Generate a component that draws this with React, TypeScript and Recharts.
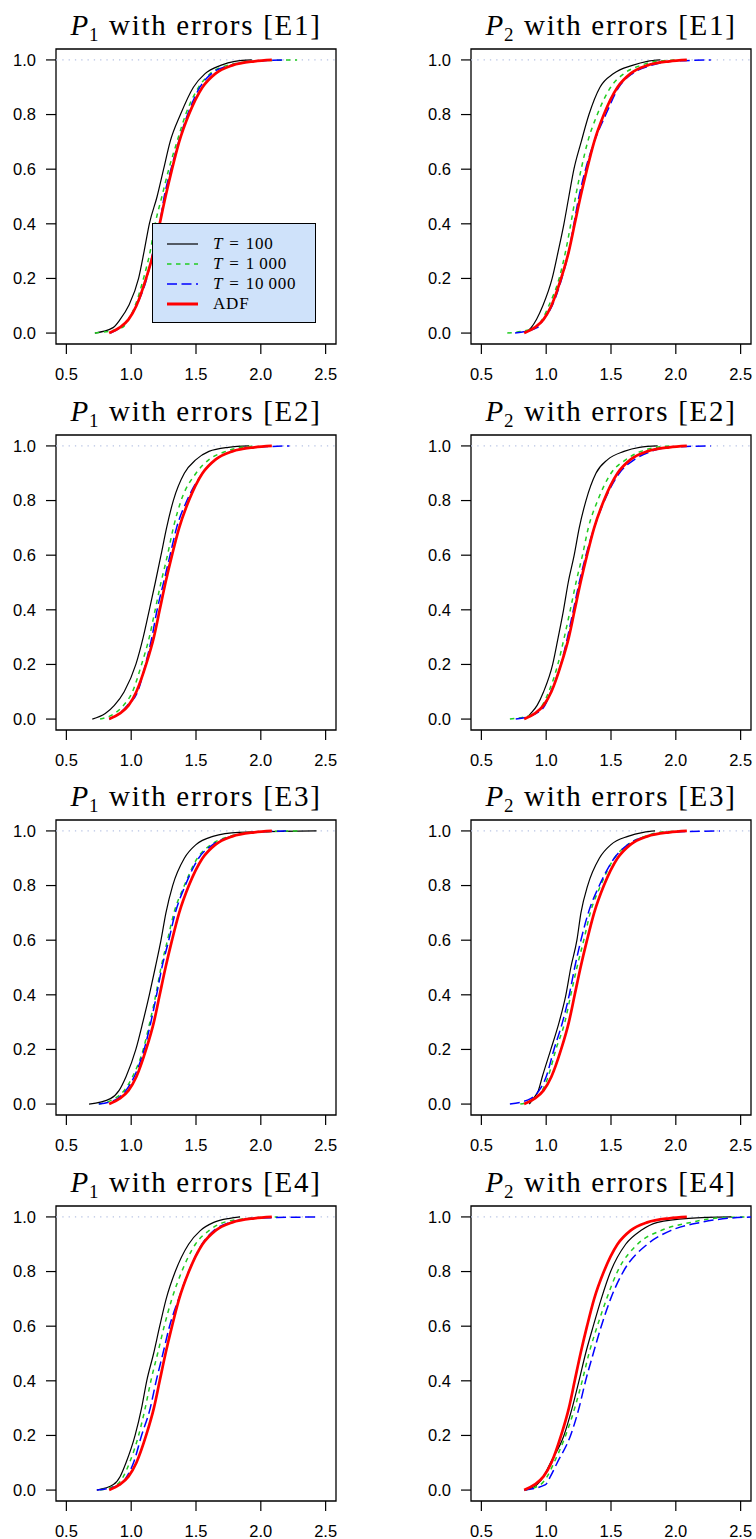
import { LineChart, Line, XAxis, YAxis, ReferenceLine, ReferenceArea, Legend } from 'recharts'

// probability levels at which each ECDF is read (quantile x-values below)
const probs = [0, 0.02, 0.05, 0.1, 0.2, 0.3, 0.4, 0.5, 0.6, 0.7, 0.8, 0.9, 0.95, 0.98, 0.995, 1]

const xTicks = [0.5, 1.0, 1.5, 2.0, 2.5]
const yTicks = [0, 0.2, 0.4, 0.6, 0.8, 1.0]

// asymptotic distribution, same in every panel
const adf = [0.83, 0.91, 0.98, 1.04, 1.115, 1.175, 1.22, 1.265, 1.315, 1.37, 1.445, 1.55, 1.65, 1.78, 1.95, 2.085]

// P1 / P2 with errors E1..E4 : T = 100, 1 000, 10 000
const p1e1T100 = [0.72, 0.86, 0.915, 0.98, 1.057, 1.1, 1.14, 1.2, 1.25, 1.3, 1.38, 1.48, 1.57, 1.69, 1.8, 1.93]
const p1e1T1000 = [0.72, 0.93, 0.98, 1.03, 1.095, 1.147, 1.185, 1.237, 1.29, 1.353, 1.42, 1.52, 1.61, 1.74, 1.95, 2.28]
const p1e1T10000 = [0.84, 0.915, 0.98, 1.04, 1.12, 1.17, 1.22, 1.255, 1.307, 1.366, 1.435, 1.53, 1.62, 1.765, 1.97, 2.2]

const p2e1T100 = [0.84, 0.884, 0.925, 0.974, 1.046, 1.093, 1.137, 1.175, 1.214, 1.27, 1.33, 1.415, 1.52, 1.665, 1.78, 1.88]
const p2e1T1000 = [0.7, 0.92, 0.97, 1.02, 1.1, 1.15, 1.19, 1.227, 1.27, 1.32, 1.394, 1.497, 1.6, 1.73, 1.85, 2.01]
const p2e1T10000 = [0.76, 0.93, 0.98, 1.046, 1.12, 1.175, 1.214, 1.253, 1.304, 1.37, 1.46, 1.56, 1.665, 1.81, 1.97, 2.27]

const p1e2T100 = [0.7, 0.8, 0.87, 0.946, 1.036, 1.093, 1.14, 1.186, 1.23, 1.273, 1.325, 1.41, 1.5, 1.6, 1.75, 1.91]
const p1e2T1000 = [0.76, 0.87, 0.94, 1.01, 1.08, 1.14, 1.185, 1.23, 1.28, 1.325, 1.385, 1.5, 1.6, 1.73, 1.85, 1.96]
const p1e2T10000 = [0.83, 0.91, 0.97, 1.05, 1.11, 1.16, 1.2, 1.25, 1.3, 1.35, 1.43, 1.55, 1.65, 1.78, 1.97, 2.22]

const p2e2T100 = [0.84, 0.88, 0.93, 0.98, 1.05, 1.093, 1.134, 1.17, 1.216, 1.255, 1.307, 1.384, 1.474, 1.6, 1.72, 1.86]
const p2e2T1000 = [0.72, 0.91, 0.97, 1.02, 1.09, 1.14, 1.186, 1.23, 1.28, 1.325, 1.397, 1.5, 1.616, 1.73, 1.85, 1.96]
const p2e2T10000 = [0.765, 0.92, 0.99, 1.036, 1.113, 1.165, 1.21, 1.255, 1.307, 1.37, 1.45, 1.564, 1.68, 1.81, 1.95, 2.27]

const p1e3T100 = [0.675, 0.84, 0.907, 0.96, 1.036, 1.09, 1.14, 1.186, 1.23, 1.268, 1.32, 1.41, 1.5, 1.63, 1.83, 2.43]
const p1e3T1000 = [0.75, 0.87, 0.946, 1.01, 1.093, 1.144, 1.19, 1.23, 1.28, 1.33, 1.41, 1.51, 1.616, 1.76, 1.92, 2.31]
const p1e3T10000 = [0.75, 0.894, 0.96, 1.023, 1.1, 1.152, 1.196, 1.237, 1.29, 1.34, 1.417, 1.52, 1.63, 1.77, 1.95, 2.195]

const p2e3T100 = [0.87, 0.9, 0.94, 0.97, 1.036, 1.1, 1.152, 1.19, 1.237, 1.268, 1.32, 1.41, 1.5, 1.63, 1.75, 1.84]
const p2e3T1000 = [0.8, 0.91, 0.97, 1.015, 1.075, 1.144, 1.19, 1.237, 1.29, 1.34, 1.42, 1.525, 1.63, 1.76, 1.88, 2.02]
const p2e3T10000 = [0.72, 0.88, 0.946, 1.0, 1.06, 1.126, 1.178, 1.22, 1.268, 1.325, 1.41, 1.525, 1.63, 1.77, 1.95, 2.34]

const p1e4T100 = [0.735, 0.863, 0.915, 0.96, 1.03, 1.08, 1.12, 1.173, 1.22, 1.27, 1.34, 1.443, 1.533, 1.637, 1.76, 1.84]
const p1e4T1000 = [0.76, 0.89, 0.94, 0.987, 1.057, 1.108, 1.152, 1.204, 1.255, 1.314, 1.39, 1.495, 1.6, 1.714, 1.92, 2.13]
const p1e4T10000 = [0.735, 0.915, 0.967, 1.018, 1.08, 1.147, 1.193, 1.245, 1.296, 1.366, 1.443, 1.546, 1.637, 1.765, 1.95, 2.45]

const p2e4T100 = [0.84, 0.93, 0.98, 1.033, 1.137, 1.2, 1.253, 1.304, 1.363, 1.425, 1.497, 1.613, 1.73, 1.86, 2.1, 2.43]
const p2e4T1000 = [0.83, 0.956, 1.008, 1.06, 1.15, 1.22, 1.278, 1.33, 1.394, 1.466, 1.55, 1.704, 1.884, 2.116, 2.3, 2.53]
const p2e4T10000 = [0.83, 0.995, 1.033, 1.085, 1.188, 1.253, 1.304, 1.363, 1.425, 1.497, 1.595, 1.78, 1.96, 2.19, 2.4, 2.62]

const panels = [
  { p: '1', e: 'E1', t100: p1e1T100, t1000: p1e1T1000, t10000: p1e1T10000 },
  { p: '2', e: 'E1', t100: p2e1T100, t1000: p2e1T1000, t10000: p2e1T10000 },
  { p: '1', e: 'E2', t100: p1e2T100, t1000: p1e2T1000, t10000: p1e2T10000 },
  { p: '2', e: 'E2', t100: p2e2T100, t1000: p2e2T1000, t10000: p2e2T10000 },
  { p: '1', e: 'E3', t100: p1e3T100, t1000: p1e3T1000, t10000: p1e3T10000 },
  { p: '2', e: 'E3', t100: p2e3T100, t1000: p2e3T1000, t10000: p2e3T10000 },
  { p: '1', e: 'E4', t100: p1e4T100, t1000: p1e4T1000, t10000: p1e4T10000 },
  { p: '2', e: 'E4', t100: p2e4T100, t1000: p2e4T1000, t10000: p2e4T10000 },
]

const styles = [
  { key: 't100', label: '100', color: '#000000', width: 1.2, dash: undefined },
  { key: 't1000', label: '1\u2009000', color: '#22cc22', width: 1.5, dash: '4.5 4.5' },
  { key: 't10000', label: '10\u2009000', color: '#0000ff', width: 1.5, dash: '10 4.5' },
  { key: 'adf', label: 'ADF', color: '#ff0000', width: 2.7, dash: undefined },
]

const X_DOMAIN = [0.42, 2.58]
const Y_DOMAIN = [-0.04, 1.04]
const ROW_STEP = 385.6
const serif = '"Liberation Serif", "Times New Roman", serif'
const sans = '"Liberation Sans", Arial, Helvetica, sans-serif'

const toPoints = (xs: number[]) => xs.map((x, i) => ({ x, y: probs[i] }))

function LegendBox() {
  return (
    <div style={{ width: 164, height: 100, boxSizing: 'border-box', background: '#cfe2fa', border: '1.3px solid #000', paddingTop: 10 }}>
      {styles.map((s) => (
        <div key={s.key} style={{ display: 'flex', alignItems: 'center', height: 20 }}>
          <svg width={45} height={20} style={{ flex: 'none' }}>
            <line x1={14} x2={45} y1={10} y2={10} stroke={s.color} strokeWidth={s.key === 'adf' ? 3 : s.width} strokeDasharray={s.dash} />
          </svg>
          <span style={{ marginLeft: 15, fontFamily: serif, fontSize: 17, letterSpacing: 0.8, color: '#000', whiteSpace: 'pre', lineHeight: '20px' }}>
            {s.key === 'adf' ? 'ADF' : (
              <>
                <i>T</i>
                <span style={{ margin: '0 6px' }}>=</span>
                {s.label}
              </>
            )}
          </span>
        </div>
      ))}
    </div>
  )
}

function Panel({ idx }: { idx: number }) {
  const panel = panels[idx] as any
  const col = idx % 2
  const row = Math.floor(idx / 2)
  const yw = col === 0 ? 56 : 93
  const series = styles.map((s) => ({ ...s, data: toPoints(s.key === 'adf' ? adf : panel[s.key]) }))
  return (
    <div style={{ position: 'absolute', left: col * 378, top: row * ROW_STEP, width: 378, height: 386 }}>
      <div style={{ position: 'absolute', left: yw, width: 280, top: 8, textAlign: 'center', fontFamily: serif, fontSize: 29, lineHeight: '34px', letterSpacing: 1.7, color: '#000', whiteSpace: 'nowrap' }}>
        <i>P</i><span style={{ fontSize: 19, position: 'relative', top: 6, marginLeft: -1 }}>{panel.p}</span> with errors [{panel.e}]
      </div>
      <LineChart width={378} height={385} margin={{ top: 49, right: col === 0 ? 42 : 5, bottom: 0, left: 0 }}>
        <XAxis
          type="number"
          dataKey="x"
          domain={X_DOMAIN}
          allowDataOverflow
          ticks={xTicks}
          interval={0}
          height={41}
          tickSize={10}
          tickMargin={14}
          axisLine={false}
          tickLine={{ stroke: '#000', strokeWidth: 1.2 }}
          tick={{ fill: '#000', fontSize: 16.5, fontFamily: sans }}
          tickFormatter={(v: number) => v.toFixed(1)}
        />
        <YAxis
          type="number"
          dataKey="y"
          domain={Y_DOMAIN}
          allowDataOverflow
          ticks={yTicks}
          interval={0}
          width={yw}
          tickSize={10}
          tickMargin={10}
          axisLine={false}
          tickLine={{ stroke: '#000', strokeWidth: 1.2 }}
          tick={{ fill: '#000', fontSize: 16.5, fontFamily: sans }}
          tickFormatter={(v: number) => v.toFixed(1)}
        />
        <ReferenceLine y={1} stroke="#b8c4e4" strokeWidth={1.2} strokeDasharray="1.3 5" ifOverflow="visible" />
        {series.map((s) => (
          <Line
            key={s.key}
            data={s.data}
            dataKey="y"
            type="monotone"
            stroke={s.color}
            strokeWidth={s.width}
            strokeDasharray={s.dash}
            dot={false}
            activeDot={false}
            isAnimationActive={false}
          />
        ))}
        <ReferenceArea x1={X_DOMAIN[0]} x2={X_DOMAIN[1]} y1={Y_DOMAIN[0]} y2={Y_DOMAIN[1]} fill="none" stroke="#000" strokeWidth={1.3} ifOverflow="visible" />
        {idx === 0 && (
          <Legend
            layout="vertical"
            align="center"
            verticalAlign="middle"
            content={() => <LegendBox />}
            wrapperStyle={{ left: 152, top: 223, width: 164, height: 100 }}
          />
        )}
      </LineChart>
    </div>
  )
}

export default function App() {
  return (
    <div style={{ position: 'absolute', left: 0, top: 0, width: 756, height: 1539, background: '#fff', overflow: 'hidden' }}>
      {panels.map((_, i) => (
        <Panel key={i} idx={i} />
      ))}
    </div>
  )
}
